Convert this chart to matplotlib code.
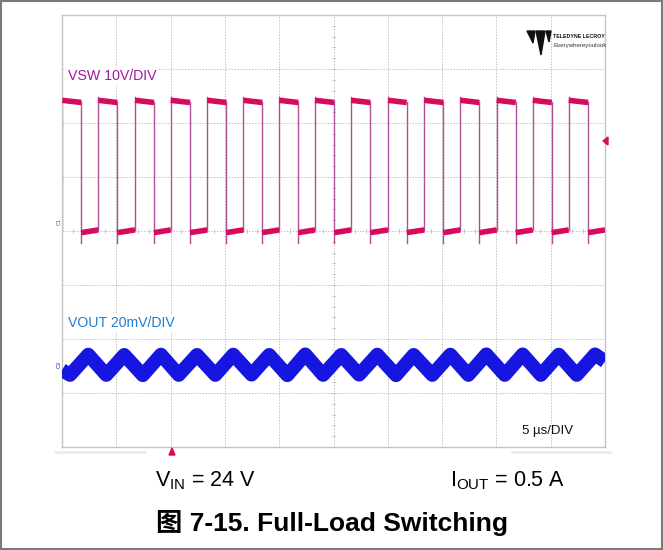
import numpy as np
import matplotlib
matplotlib.use('Agg')
import matplotlib.pyplot as plt
from matplotlib.patches import Polygon, Rectangle

plt.rcParams['font.family'] = ['Liberation Sans', 'Noto Sans CJK SC', 'DejaVu Sans']
plt.rcParams['mathtext.fontset'] = 'custom'
plt.rcParams['mathtext.rm'] = 'Liberation Sans'

W, H = 663, 550

# switch node: edge times (us) and levels (V), 10 V/div, 5 us/div
rise_us = [0.03, 3.34, 6.72, 10.01, 13.38, 16.71, 20.01, 23.30, 26.62, 30.02, 33.36, 36.68, 40.03, 43.35, 46.66]
fall_us = [1.78, 5.09, 8.47, 11.79, 15.13, 18.44, 21.76, 25.07, 28.39, 31.74, 35.12, 38.43, 41.78, 45.10, 48.44]
vsw_high_start = 24.2
vsw_high_end = 23.8
vsw_low_start = -0.3
vsw_low_end = 0.2
vsw_overshoot = 24.8
vsw_undershoot = -2.2

# output ripple: extrema times (us) and values (mV, ac), 20 mV/div
vout_t = [0.0, 0.74, 2.42, 4.08, 5.73, 7.44, 9.11, 10.75, 12.43, 14.12, 15.77, 17.45, 19.08,
          20.75, 22.40, 24.04, 25.71, 27.36, 29.03, 30.76, 32.38, 34.10, 35.76, 37.42, 39.07,
          40.77, 42.42, 44.09, 45.74, 47.40, 49.08, 50.0]
vout_mv = [-1.9, -3.7, 3.8, -3.7, 3.7, -3.8, 3.8, -3.7, 3.7, -3.7, 3.8, -3.6, 3.7,
           -3.8, 3.9, -3.7, 3.7, -3.6, 3.8, -3.8, 3.7, -3.7, 3.8, -3.7, 3.9,
           -3.7, 3.9, -3.7, 3.8, -3.7, 3.9, 1.3]

VSW_SCALE = 10.0   # V/div
VOUT_SCALE = 20.0  # mV/div
VOUT_OFFSET = -2.48  # div


def fx(x):
    return x / W


def fy(y):
    return 1 - y / H


fig = plt.figure(figsize=(W / 100, H / 100), dpi=100)

# scope screen
ax = fig.add_axes([fx(62), fy(447), 543 / W, 432 / H])
ax.set_xlim(0, 50)
ax.set_ylim(-4, 4)
ax.set_xticks([])
ax.set_yticks([])
for s in ax.spines.values():
    s.set_color('#c4c4c4')
    s.set_linewidth(1.0)

grid_kw = dict(color='#c0c0c0', lw=0.7, linestyle=(0, (1.5, 1.5)), zorder=0)
for t in range(5, 50, 5):
    ax.axvline(t, **grid_kw)
for d in range(-3, 4):
    ax.axhline(d, **grid_kw)

# minor ticks on centre lines
for k in range(-20, 21):
    ax.plot([24.82, 25.18], [k * 0.2, k * 0.2], color='#c4c4c4', lw=0.6, zorder=0)
for k in range(0, 51):
    ax.plot([k, k], [-0.04, 0.04], color='#c4c4c4', lw=0.6, zorder=0)

# VSW trace
edge_c = '#b0509c'
plat_c = '#d80a5e'
for i, (r, f) in enumerate(zip(rise_us, fall_us)):
    ax.plot([r, r], [vsw_low_end / VSW_SCALE, vsw_overshoot / VSW_SCALE], color=edge_c, lw=1.0, zorder=2)
    ax.plot([f, f], [vsw_undershoot / VSW_SCALE, vsw_high_end / VSW_SCALE], color=edge_c, lw=1.0, zorder=2)
    ax.plot([r, f], [vsw_high_start / VSW_SCALE, vsw_high_end / VSW_SCALE],
            color=plat_c, lw=4.0, solid_capstyle='butt', zorder=3)
    nxt = rise_us[i + 1] if i + 1 < len(rise_us) else 50.0
    ax.plot([f, nxt], [vsw_low_start / VSW_SCALE, vsw_low_end / VSW_SCALE],
            color=plat_c, lw=4.0, solid_capstyle='butt', zorder=3)

# VOUT trace
vout_div = VOUT_OFFSET + np.array(vout_mv) / VOUT_SCALE
ax.plot(vout_t, vout_div, color='#1616e0', lw=10.0, solid_joinstyle='round',
        solid_capstyle='butt', zorder=3)

ax.text(0.55, 2.87, 'VSW 10V/DIV', color='#a0189c', fontsize=10.2, va='center', ha='left',
        bbox=dict(facecolor='white', edgecolor='none', pad=1.5), zorder=5)
ax.text(0.55, -1.70, 'VOUT 20mV/DIV', color='#1f7fd0', fontsize=10.2, va='center', ha='left',
        bbox=dict(facecolor='white', edgecolor='none', pad=1.5), zorder=5)
ax.text(47.05, -3.70, '5 µs/DIV', color='#111111', fontsize=9.5, va='center', ha='right', zorder=5)

# trigger markers
fig.patches.append(Polygon([(fx(603), fy(141)), (fx(608), fy(137)), (fx(608), fy(145))],
                           closed=True, transform=fig.transFigure, color=plat_c, zorder=6))
fig.patches.append(Polygon([(fx(172), fy(448)), (fx(169), fy(455)), (fx(175), fy(455))],
                           closed=True, transform=fig.transFigure, color=plat_c, zorder=6))

# channel markers
fig.text(fx(59), fy(222), 'C1', rotation=90, fontsize=4, color=plat_c, ha='center', va='center')
fig.text(fx(59), fy(364), 'C3', rotation=90, fontsize=4, color='#1414d2', ha='center', va='center')

# faint strip under the screen
fig.lines.append(plt.Line2D([fx(55), fx(145)], [fy(452), fy(452)], transform=fig.transFigure,
                            color='#ececec', lw=2))
fig.lines.append(plt.Line2D([fx(512), fx(610)], [fy(452), fy(452)], transform=fig.transFigure,
                            color='#ececec', lw=2))

# logo
for poly in ([(527, 31), (535, 31), (533, 43)],
             [(536, 31), (545, 31), (541, 55)],
             [(546, 31), (551, 31), (549, 42)]):
    fig.patches.append(Polygon([(fx(x), fy(y)) for x, y in poly], closed=True,
                               transform=fig.transFigure, color='#111111'))
fig.text(fx(553), fy(37), 'TELEDYNE LECROY', fontsize=3.8, fontweight='bold', color='#111111',
         ha='left', va='center')
fig.text(fx(553), fy(46), 'Everywhereyoulook', fontsize=4.4, color='#333333', ha='left', va='center')

# caption
fig.text(fx(155), fy(486), r'V$_{\rm IN}$ = 24 V', fontsize=15.5, ha='left', va='baseline')
fig.text(fx(450), fy(486), r'I$_{\rm OUT}$ = 0.5 A', fontsize=15.5, ha='left', va='baseline')
fig.text(fx(156), fy(531), '图 7-15. Full-Load Switching', fontsize=19, fontweight='bold',
         ha='left', va='baseline')

fig.patches.append(Rectangle((0.001, 0.002), 0.997, 0.996, transform=fig.transFigure,
                             fill=False, edgecolor='#7a7a7a', lw=1.5))

fig.savefig('out.png', dpi=100)
